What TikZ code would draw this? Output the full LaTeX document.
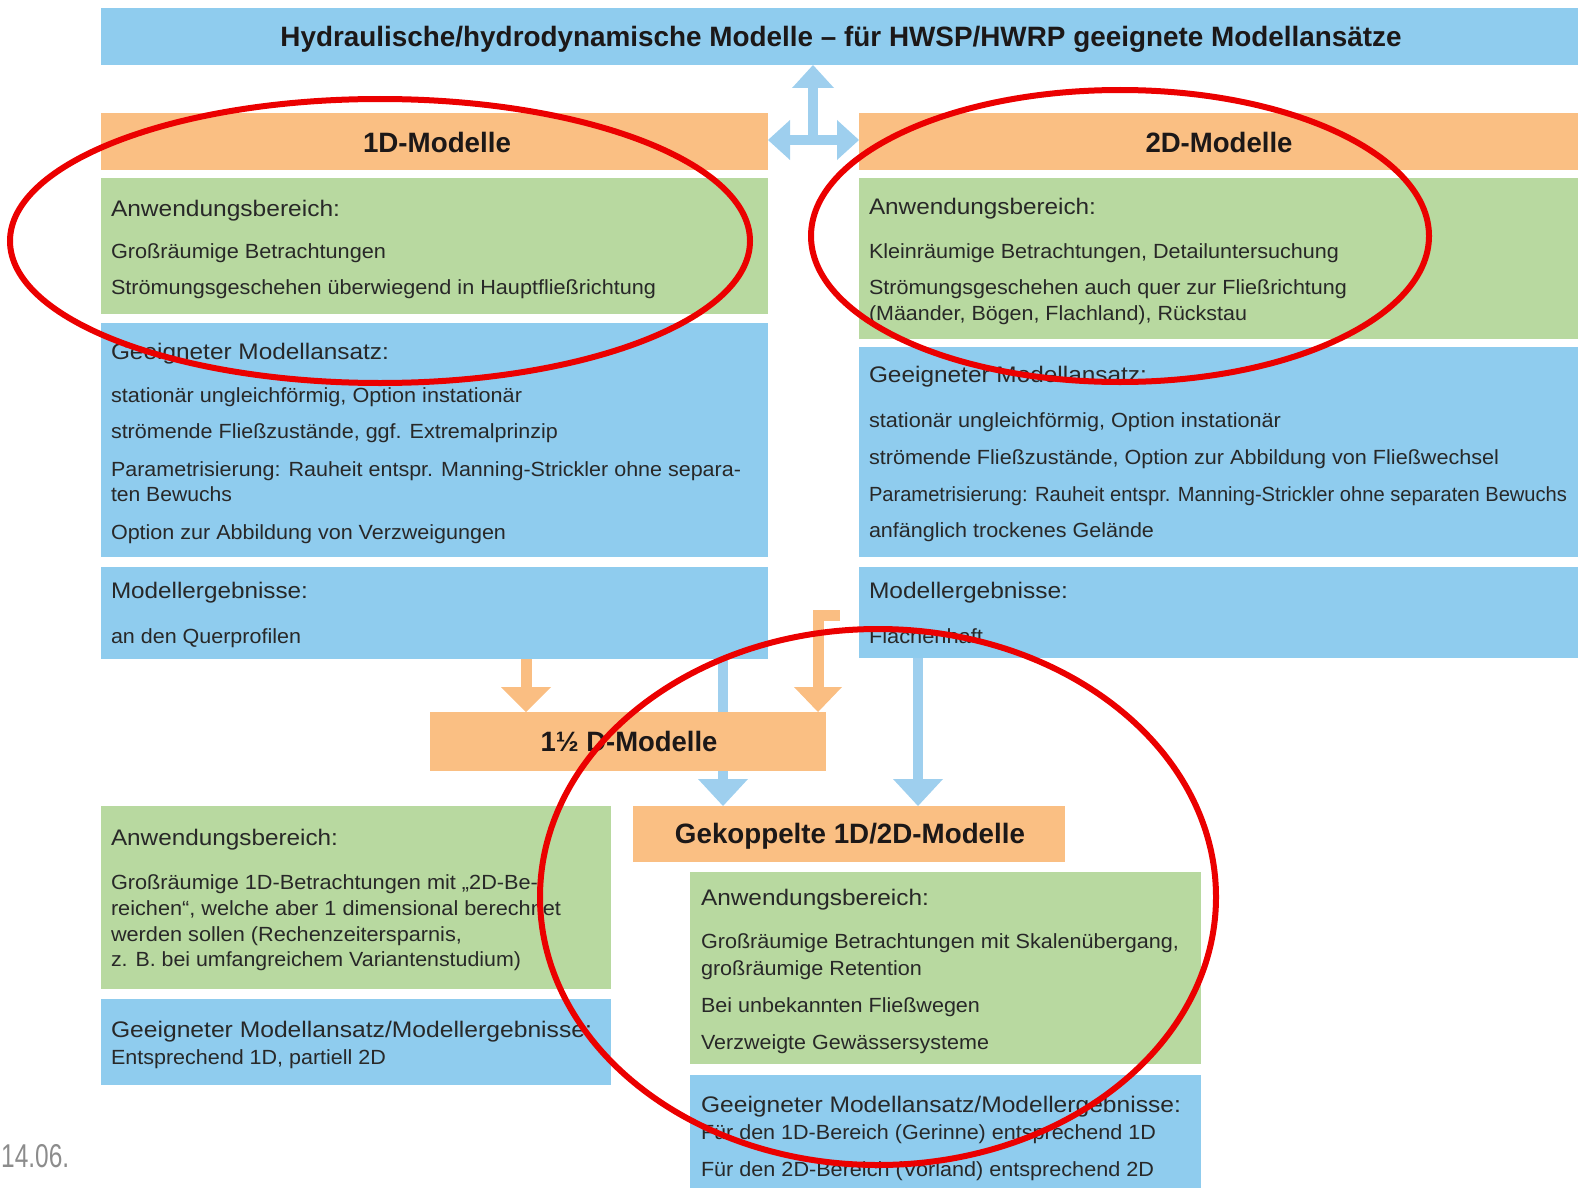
\documentclass[tikz,border=0pt]{standalone}
\usepackage{fontspec}
\usepackage{graphicx}
\setmainfont{Liberation Sans}
\usetikzlibrary{arrows.meta}
\definecolor{boxb}{RGB}{143,204,238}
\definecolor{boxg}{RGB}{184,217,160}
\definecolor{boxo}{RGB}{250,191,131}
\definecolor{arrb}{RGB}{158,207,238}
\definecolor{arro}{RGB}{250,190,130}
\definecolor{ringred}{RGB}{235,0,0}
\definecolor{txtc}{RGB}{40,40,40}
\definecolor{hdrc}{RGB}{28,24,24}
\definecolor{datec}{RGB}{140,140,140}
\newcommand\mybx[6]{\node[rectangle,inner sep=0pt,outer sep=0pt,draw=none,fill=#2,minimum width={#5pt-#3pt},minimum height={#6pt-#4pt}] (#1) at ({(#3+#5)/2},{(#4+#6)/2}) {};}
\newcommand\mytx[6]{\node[#1,anchor=base west] (#2) at (#3,#4) {\resizebox{#5pt}{\height}{#6}};}
\begin{document}
\begin{tikzpicture}[x=1pt,y=-1pt,
  body/.style={inner sep=0pt,outer sep=0pt,text=txtc,font=\fontsize{20.5}{24}\selectfont},
  lead/.style={inner sep=0pt,outer sep=0pt,text=txtc,font=\fontsize{22.5}{26}\selectfont},
  hdr/.style={inner sep=0pt,outer sep=0pt,text=hdrc,font=\fontsize{28}{32}\selectfont\bfseries},
  barrow/.style={draw=arrb,line width=10pt},
  oarrow/.style={draw=arro,line width=11pt},
  ring/.style={draw=ringred,line width=6pt}]
\useasboundingbox (0,0) rectangle (1581,1188);
% boxes
\mybx{title}{boxb}{101}{8}{1578}{65}
\mybx{h1d}{boxo}{101}{113}{768}{170}
\mybx{h2d}{boxo}{859}{113}{1578}{170}
\mybx{g1d}{boxg}{101}{178}{768}{314}
\mybx{b1d}{boxb}{101}{323}{768}{557}
\mybx{r1d}{boxb}{101}{567}{768}{659}
\mybx{g2d}{boxg}{859}{178}{1578}{339}
\mybx{b2d}{boxb}{859}{347}{1578}{557}
\mybx{r2d}{boxb}{859}{567}{1578}{658}
\mybx{gl}{boxg}{101}{806}{611}{989}
\mybx{bl}{boxb}{101}{999}{611}{1085}
\mybx{hgk}{boxo}{633}{806}{1065}{862}
\mybx{ggk}{boxg}{690}{872}{1201}{1064}
\mybx{bgk}{boxb}{690}{1075}{1201}{1188}
% top arrows
\coordinate (j) at (813,140);
\draw[barrow,{Triangle[width=40pt,length=22pt,line width=0pt]}-{Triangle[width=40pt,length=22pt,line width=0pt]}] (h1d.east |- j) -- (h2d.west |- j);
\draw[barrow,-{Triangle[width=42pt,length=23pt,line width=0pt]}] (j) -- (title.south -| j);
% lower arrows
\coordinate (xa) at (526,0);
\coordinate (xb) at (723,0);
\coordinate (xd) at (918,0);
\draw[barrow,-{Triangle[width=50pt,length=27pt,line width=0pt]}] (r1d.south -| xb) -- (hgk.north -| xb);
\draw[barrow,-{Triangle[width=50pt,length=27pt,line width=0pt]}] (r2d.south -| xd) -- (hgk.north -| xd);
\mybx{h15}{boxo}{430}{712}{826}{771}
\draw[oarrow,-{Triangle[width=50pt,length=25pt,line width=0pt]}] (r1d.south -| xa) -- (h15.north -| xa);
\coordinate (ls) at (840,615.5);
\coordinate (lc) at (818,615.5);
\draw[oarrow,line join=miter,-{Triangle[width=48pt,length=25pt,line width=0pt]}] (ls) -- (lc) -- (h15.north -| lc);
% headers
\node[hdr,anchor=base] (ttt) at (841,47) {\resizebox{1121pt}{\height}{Hydraulische/hydrodynamische Modelle – für HWSP/HWRP geeignete Modellansätze}};
\node[hdr,anchor=base] (n1d) at (437,152) {\resizebox{148pt}{\height}{1D-Modelle}};
\node[hdr,anchor=base] (n2d) at (1219,152) {\resizebox{147pt}{\height}{2D-Modelle}};
\node[hdr,anchor=base] (n15) at (629,751) {\resizebox{177pt}{\height}{1½ D-Modelle}};
\node[hdr,anchor=base] (ngk) at (850,843) {\resizebox{350pt}{\height}{Gekoppelte 1D/2D-Modelle}};
% 1D texts
\mytx{lead}{t1}{111}{216}{229}{Anwendungsbereich:}
\mytx{body}{t2}{111}{258}{275}{Großräumige Betrachtungen}
\mytx{body}{t3}{111}{294}{545}{Strömungsgeschehen überwiegend in Hauptfließrichtung}
\mytx{lead}{t4}{111}{359}{278}{Geeigneter Modellansatz:}
\mytx{body}{t5}{111}{402}{411}{stationär ungleichförmig, Option instationär}
\mytx{body}{t6}{111}{438}{447}{strömende Fließzustände, ggf. Extremalprinzip}
\mytx{body}{t7}{111}{476}{630}{Parametrisierung: Rauheit entspr. Manning-Strickler ohne separa-}
\mytx{body}{t8}{111}{501}{121}{ten Bewuchs}
\mytx{body}{t9}{111}{539}{395}{Option zur Abbildung von Verzweigungen}
\mytx{lead}{t10}{111}{598}{197}{Modellergebnisse:}
\mytx{body}{t11}{111}{643}{190}{an den Querprofilen}
% 2D texts
\mytx{lead}{u1}{869}{214}{227}{Anwendungsbereich:}
\mytx{body}{u2}{869}{258}{470}{Kleinräumige Betrachtungen, Detailuntersuchung}
\mytx{body}{u3}{869}{294}{478}{Strömungsgeschehen auch quer zur Fließrichtung}
\mytx{body}{u4}{869}{320}{378}{(Mäander, Bögen, Flachland), Rückstau}
\mytx{lead}{u5}{869}{382}{278}{Geeigneter Modellansatz:}
\mytx{body}{u6}{869}{427}{412}{stationär ungleichförmig, Option instationär}
\mytx{body}{u7}{869}{464}{630}{strömende Fließzustände, Option zur Abbildung von Fließwechsel}
\mytx{body}{u8}{869}{501}{698}{Parametrisierung: Rauheit entspr. Manning-Strickler ohne separaten Bewuchs}
\mytx{body}{u9}{869}{537}{285}{anfänglich trockenes Gelände}
\mytx{lead}{u10}{869}{598}{199}{Modellergebnisse:}
\mytx{body}{u11}{869}{643}{114}{Flächenhaft}
% 1.5D texts
\mytx{lead}{v1}{111}{845}{227}{Anwendungsbereich:}
\mytx{body}{v2}{111}{889}{427}{Großräumige 1D-Betrachtungen mit „2D-Be-}
\mytx{body}{v3}{111}{915}{450}{reichen“, welche aber 1 dimensional berechnet}
\mytx{body}{v4}{111}{941}{351}{werden sollen (Rechenzeitersparnis,}
\mytx{body}{v5}{111}{966}{410}{z. B. bei umfangreichem Variantenstudium)}
\mytx{lead}{v6}{111}{1037}{481}{Geeigneter Modellansatz/Modellergebnisse:}
\mytx{body}{v7}{111}{1064}{275}{Entsprechend 1D, partiell 2D}
% coupled texts
\mytx{lead}{w1}{701}{905}{228}{Anwendungsbereich:}
\mytx{body}{w2}{701}{948}{478}{Großräumige Betrachtungen mit Skalenübergang,}
\mytx{body}{w3}{701}{975}{221}{großräumige Retention}
\mytx{body}{w4}{701}{1012}{279}{Bei unbekannten Fließwegen}
\mytx{body}{w5}{701}{1049}{288}{Verzweigte Gewässersysteme}
\mytx{lead}{w6}{701}{1112}{480}{Geeigneter Modellansatz/Modellergebnisse:}
\mytx{body}{w7}{701}{1139}{455}{Für den 1D-Bereich (Gerinne) entsprechend 1D}
\mytx{body}{w8}{701}{1176}{453}{Für den 2D-Bereich (Vorland) entsprechend 2D}
% date
\node[anchor=base west,inner sep=0pt,text=datec,font=\fontsize{33}{36}\selectfont] (date) at (1,1167) {\resizebox{68pt}{\height}{14.06.}};
% red rings
\draw[ring] (380,241) ellipse [x radius=370pt, y radius=142pt];
\draw[ring] (1120,236) ellipse [x radius=309pt, y radius=146pt];
\draw[ring] (878,897) ellipse [x radius=338pt, y radius=268pt];
\end{tikzpicture}
\end{document}
